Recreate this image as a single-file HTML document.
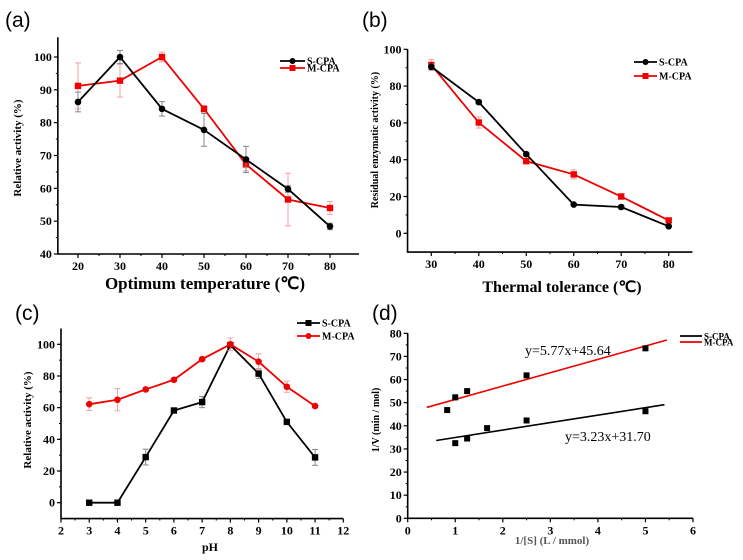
<!DOCTYPE html>
<html><head><meta charset="utf-8"><style>
html,body{margin:0;padding:0;background:#fff;}
svg{display:block;font-family:"Liberation Serif",serif;}
.lab{font-family:"Liberation Sans",sans-serif;font-size:21px;}
.tk{font-size:12px;font-weight:bold;}
</style></head><body>
<svg id="fig" width="743" height="560" viewBox="0 0 743 560" xmlns="http://www.w3.org/2000/svg"></svg>
<script>
// Panel (a)
const aX = [20,30,40,50,60,70,80];
const aS = [86.3,100,84.2,77.8,68.8,59.8,48.4];
const aSerr = [3,2,2.2,5,4,1,1];
const aM = [91.2,92.8,100,84.2,67.3,56.6,54];
const aMerr = [7,5,1.5,1,2,8,2];
const aXticks = [20,30,40,50,60,70,80];
const aYticks = [40,50,60,70,80,90,100];
// Panel (b)
const bX = [30,40,50,60,70,80];
const bS = [90.5,71.3,43,15.6,14.3,3.8];
const bSerr = [1.5,1,1,0.5,1,0.5];
const bM = [91.5,60.2,39.2,32,20,7];
const bMerr = [3,3,1,2.5,1,0.5];
const bXticks = [30,40,50,60,70,80];
const bYticks = [0,20,40,60,80,100];
// Panel (c)
const cX = [3,4,5,6,7,8,9,10,11];
const cS = [0,0,28.8,58.2,63.5,99.5,81.5,51,28.6];
const cSerr = [0,0,5,1,3.5,1,3,1,5];
const cM = [62.2,65,71.5,77.6,90.6,100,89,73.2,61];
const cMerr = [4,7,1,1,1,4,5,3.5,1];
const cXticks = [2,3,4,5,6,7,8,9,10,11,12];
const cYticks = [0,20,40,60,80,100];
// Panel (d)
const dSx = [1,1.25,1.67,2.5,5];
const dSy = [32.5,34.5,39,42.3,46.3];
const dMx = [0.83,1,1.25,2.5,5];
const dMy = [46.8,52.3,55,61.8,73.5];
const dSfit = [3.23,31.70];
const dMfit = [5.77,45.64];
const dSrange = [0.6,5.4];
const dMrange = [0.4,5.45];
const dXticks = [0,1,2,3,4,5,6];
const dYticks = [0,10,20,30,40,50,60,70,80];

const NS='http://www.w3.org/2000/svg';
const svg=document.getElementById('fig');
function mk(tag,attrs,parent,text){const e=document.createElementNS(NS,tag);for(const k in attrs)e.setAttribute(k,attrs[k]);if(text!==undefined)e.textContent=text;(parent||svg).appendChild(e);return e;}
function scale(d0,d1,r0,r1){return v=>r0+(v-d0)*(r1-r0)/(d1-d0);}

function axes(g,sx,sy,cfg){
  const [x0,x1]=cfg.xr,[y0,y1]=cfg.yr;
  const ax=mk('path',{d:`M${sx(x0)},${sy(y1)}V${sy(y0)}H${sx(x1)}`,fill:'none',stroke:'#000','stroke-width':1.6},g);
  
  
  cfg.xt.forEach((t,i)=>{
    mk('line',{x1:sx(t),x2:sx(t),y1:sy(y0),y2:sy(y0)+4,stroke:'#000','stroke-width':1.2},g);
    if(i<cfg.xt.length-1){const m=(t+cfg.xt[i+1])/2;mk('line',{x1:sx(m),x2:sx(m),y1:sy(y0),y2:sy(y0)+2,stroke:'#000','stroke-width':1},g);}
    const l=mk('text',{x:sx(t),y:sy(y0)+16,'text-anchor':'middle',class:'tk'},g,t);
    
    
  });
  cfg.yt.forEach((t,i)=>{
    mk('line',{x1:sx(x0)-4,x2:sx(x0),y1:sy(t),y2:sy(t),stroke:'#000','stroke-width':1.2},g);
    if(i<cfg.yt.length-1){const m=(t+cfg.yt[i+1])/2;mk('line',{x1:sx(x0)-2,x2:sx(x0),y1:sy(m),y2:sy(m),stroke:'#000','stroke-width':1},g);}
    const l=mk('text',{x:sx(x0)-6,y:sy(t)+4,'text-anchor':'end',class:'tk'},g,t);
    
    
  });
}
function series(g,sx,sy,xs,ys,errs,col,shape,name){
  const sg=mk('g',{},g);
  
  
  xs.forEach((x,i)=>{if(errs[i]>0){const ec=col==='#000'?'#888':'#f0a0a0';
    mk('line',{x1:sx(x),x2:sx(x),y1:sy(ys[i]-errs[i]),y2:sy(ys[i]+errs[i]),stroke:ec,'stroke-width':1},sg);
    mk('line',{x1:sx(x)-3,x2:sx(x)+3,y1:sy(ys[i]+errs[i]),y2:sy(ys[i]+errs[i]),stroke:ec,'stroke-width':1},sg);
    mk('line',{x1:sx(x)-3,x2:sx(x)+3,y1:sy(ys[i]-errs[i]),y2:sy(ys[i]-errs[i]),stroke:ec,'stroke-width':1},sg);}});
  mk('polyline',{points:xs.map((x,i)=>sx(x)+','+sy(ys[i])).join(' '),fill:'none',stroke:col,'stroke-width':1.8},sg);
  xs.forEach((x,i)=>{
    const m=shape==='c'?mk('circle',{cx:sx(x),cy:sy(ys[i]),r:3.3,fill:col},sg):mk('rect',{x:sx(x)-3.2,y:sy(ys[i])-3.2,width:6.4,height:6.4,fill:col},sg);
    
    
  });
}
function legend(g,x1,x2,y,col,shape,label,fs){
  const lg=mk('g',{},g);
  
  
  mk('line',{x1:x1,x2:x2,y1:y,y2:y,stroke:col,'stroke-width':1.8},lg);
  if(shape==='c')mk('circle',{cx:(x1+x2)/2,cy:y,r:3,fill:col},lg);
  else if(shape==='s')mk('rect',{x:(x1+x2)/2-3,y:y-3,width:6,height:6,fill:col},lg);
  mk('text',{x:x2+2,y:y+3.5,'font-size':fs,'font-weight':'bold'},lg,label);
}
function textEl(x,y,str,attrs,name){const t=mk('text',Object.assign({x:x,y:y},attrs),svg,str);return t;}

// ---- (a)
{const g=mk('g',{});
 const sx=scale(20,80,78,330),sy=scale(40,100,254,57);
 axes(g,sx,sy,{xr:[15.2,86.9],yr:[40,106],xt:aXticks,yt:aYticks});
 series(g,sx,sy,aX,aM,aMerr,'#f00000','s','series-m-cpa');
 series(g,sx,sy,aX,aS,aSerr,'#000','c','series-s-cpa');
 legend(g,280,305,61,'#000','c','S-CPA',10);legend(g,280,305,68,'#f00000','s','M-CPA',10);}
textEl(5,27,'(a)',{class:'lab'},'panel-label-a');
textEl(205,289,'Optimum temperature (℃)',{'text-anchor':'middle','font-size':17,'font-weight':'bold'},'x-axis-title-a');
textEl(0,0,'Relative activity (%)',{'text-anchor':'middle','font-size':11,'font-weight':'bold',transform:'translate(21,148) rotate(-90)'},'y-axis-title-a');

// ---- (b)
{const g=mk('g',{});
 const sx=scale(30,80,431.3,668.7),sy=scale(0,100,233.3,49.3);
 axes(g,sx,sy,{xr:[25,85],yr:[-10.2,100],xt:bXticks,yt:bYticks});
 series(g,sx,sy,bX,bM,bMerr,'#f00000','s','series-m-cpa');
 series(g,sx,sy,bX,bS,bSerr,'#000','c','series-s-cpa');
 legend(g,634,657,62,'#000','c','S-CPA',10);legend(g,634,657,76,'#f00000','s','M-CPA',10);}
textEl(362,27,'(b)',{class:'lab'},'panel-label-b');
textEl(562,292,'Thermal tolerance (℃)',{'text-anchor':'middle','font-size':16,'font-weight':'bold'},'x-axis-title-b');
textEl(0,0,'Residual enzymatic activity  (%)',{'text-anchor':'middle','font-size':10,'font-weight':'bold',transform:'translate(378,140) rotate(-90)'},'y-axis-title-b');

// ---- (c)
{const g=mk('g',{});
 const sx=scale(2,12,61,343.3),sy=scale(0,100,502.7,344.3);
 axes(g,sx,sy,{xr:[2,12],yr:[-10,110],xt:cXticks,yt:cYticks});
 series(g,sx,sy,cX,cS,cSerr,'#000','s','series-s-cpa');
 series(g,sx,sy,cX,cM,cMerr,'#f00000','c','series-m-cpa');
 legend(g,297,320,323,'#000','s','S-CPA',10);legend(g,297,320,336,'#f00000','c','M-CPA',10);}
textEl(15,320,'(c)',{class:'lab'},'panel-label-c');
textEl(210,551,'pH',{'text-anchor':'middle','font-size':12,'font-weight':'bold'},'x-axis-title-c');
textEl(0,0,'Relative activity (%)',{'text-anchor':'middle','font-size':11,'font-weight':'bold',transform:'translate(31,420) rotate(-90)'},'y-axis-title-c');

// ---- (d)
{const g=mk('g',{});
 const sx=scale(0,6,407.7,693),sy=scale(0,80,518.3,333.3);
 axes(g,sx,sy,{xr:[0,6],yr:[0,80],xt:dXticks,yt:dYticks});
 const f=(p,x)=>p[0]*x+p[1];
 const l1=mk('line',{x1:sx(dMrange[0]),y1:sy(f(dMfit,dMrange[0])),x2:sx(dMrange[1]),y2:sy(f(dMfit,dMrange[1])),stroke:'#f00000','stroke-width':1.6},g);
 
 const l2=mk('line',{x1:sx(dSrange[0]),y1:sy(f(dSfit,dSrange[0])),x2:sx(dSrange[1]),y2:sy(f(dSfit,dSrange[1])),stroke:'#000','stroke-width':1.6},g);
 
 dSx.forEach((x,i)=>{const r=mk('rect',{x:sx(x)-3,y:sy(dSy[i])-3,width:6,height:6,fill:'#000'},g);});
 dMx.forEach((x,i)=>{const r=mk('rect',{x:sx(x)-3,y:sy(dMy[i])-3,width:6,height:6,fill:'#000'},g);});
 legend(g,680,702,336,'#000','','S-CPA',9);legend(g,680,702,342,'#f00000','','M-CPA',9);}
textEl(372,320,'(d)',{class:'lab'},'panel-label-d');
textEl(525,355,'y=5.77x+45.64',{'font-size':14},'equation-m-cpa');
textEl(565,441,'y=3.23x+31.70',{'font-size':14},'equation-s-cpa');
textEl(552,544,'1/[S]  (L / mmol)',{'text-anchor':'middle','font-size':11,'font-weight':'bold',fill:'#555'},'x-axis-title-d');
textEl(0,0,'1/V (min / mol)',{'text-anchor':'middle','font-size':10,'font-weight':'bold',transform:'translate(379,420) rotate(-90)'},'y-axis-title-d');
</script>
</body></html>
